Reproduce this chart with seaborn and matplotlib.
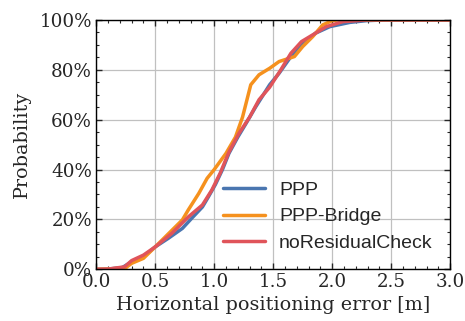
import matplotlib
matplotlib.use("Agg")
import matplotlib.pyplot as plt
import seaborn as sns
import pandas as pd
from matplotlib.ticker import MultipleLocator, PercentFormatter

ppp_x = [0.0, 0.1, 0.22, 0.30, 0.40, 0.50, 0.61, 0.73, 0.81, 0.90, 0.95, 1.01, 1.07, 1.125, 1.20,
         1.27, 1.35, 1.47, 1.55, 1.64, 1.75, 1.86, 1.98, 2.15, 2.29, 2.45, 3.0]
ppp_y = [0.0, 0.1, 0.7, 3.0, 5.0, 9.0, 12.4, 16.4, 20.5, 25.0, 29.0, 34.0, 40.0, 46.5, 53.0,
         58.5, 65.0, 74.0, 78.6, 84.6, 90.6, 94.7, 97.3, 99.0, 99.7, 100.0, 100.0]

bridge_x = [0.0, 0.1, 0.25, 0.30, 0.40, 0.50, 0.585, 0.73, 0.78, 0.87, 0.94, 1.00, 1.10, 1.18,
            1.24, 1.31, 1.38, 1.47, 1.55, 1.68, 1.75, 1.835, 1.92, 2.00, 2.05, 3.0]
bridge_y = [0.0, 0.1, 0.6, 2.4, 4.4, 9.0, 13.0, 19.8, 23.8, 30.5, 36.5, 40.0, 46.5, 53.0,
            61.0, 74.0, 78.0, 80.6, 83.3, 85.3, 89.3, 93.3, 98.0, 99.7, 100.0, 100.0]

nrc_x = [0.0, 0.1, 0.24, 0.30, 0.40, 0.50, 0.64, 0.78, 0.90, 0.98, 1.05, 1.125, 1.21, 1.30,
         1.38, 1.47, 1.565, 1.65, 1.74, 1.835, 1.95, 2.09, 2.30, 3.0]
nrc_y = [0.0, 0.1, 1.0, 3.5, 5.7, 9.0, 14.4, 21.0, 25.8, 31.8, 38.5, 47.0, 54.5, 61.0,
         68.0, 73.0, 80.0, 86.6, 91.3, 94.0, 97.3, 99.3, 100.0, 100.0]

series_names = ["PPP", "PPP-Bridge", "noResidualCheck"]
colors = ["#4a76b0", "#f5911e", "#e0545a"]

frames = []
for name, xs, ys in zip(series_names, [ppp_x, bridge_x, nrc_x], [ppp_y, bridge_y, nrc_y]):
    frames.append(pd.DataFrame({"x": xs, "y": ys, "series": name}))
df = pd.concat(frames, ignore_index=True)

sns.set_style("ticks")
plt.rcParams["font.family"] = ["DejaVu Serif"]

fig = plt.figure(figsize=(4.65, 3.21), dpi=100)
ax = fig.add_axes([0.207, 0.161, 0.761, 0.777])

sns.lineplot(data=df, x="x", y="y", hue="series", hue_order=series_names,
             palette=colors, linewidth=2.5, ax=ax, sort=False, estimator=None)

ax.set_xlim(0, 3.0)
ax.set_ylim(0, 100)
ax.xaxis.set_major_locator(MultipleLocator(0.5))
ax.xaxis.set_minor_locator(MultipleLocator(0.1))
ax.yaxis.set_major_locator(MultipleLocator(20))
ax.yaxis.set_minor_locator(MultipleLocator(5))
ax.yaxis.set_major_formatter(PercentFormatter(decimals=0))
ax.grid(True, which="major", color="#c0c0c0", linewidth=0.9)
ax.tick_params(which="both", direction="in", top=True, right=True, labelsize=13.2, pad=3)
ax.tick_params(which="major", length=4, width=1)
ax.tick_params(which="minor", length=2, width=0.8)
for s in ax.spines.values():
    s.set_color("black")
    s.set_linewidth(1)

ax.set_xlabel("Horizontal positioning error [m]", fontsize=13.8, labelpad=3)
ax.set_ylabel("Probability", fontsize=13.8, labelpad=6)

leg = ax.legend(loc="lower right", frameon=False, prop={"family": "Liberation Sans", "size": 14},
                handlelength=2.2, handletextpad=0.7, labelspacing=0.45,
                bbox_to_anchor=(1.0, 0.0))

fig.savefig("out.png", dpi=100)
